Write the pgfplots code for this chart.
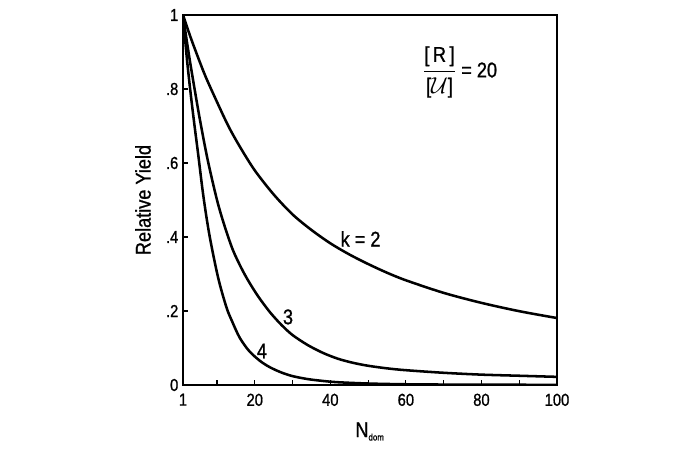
\documentclass[border=0pt]{standalone}
\usepackage{fontspec}
\setmainfont{Liberation Sans}[FakeStretch=0.85, FakeBold=1]
\usepackage{pgfplots}
\pgfplotsset{compat=1.18}
\begin{document}
\begin{tikzpicture}
\path[use as bounding box] (-137.25pt,-61.5pt) rectangle (387pt,288.75pt);
\begin{axis}[
  at={(0,0)}, anchor=origin,
  scale only axis, width=280.5pt, height=277.5pt,
  xmin=1, xmax=100, ymin=0, ymax=1,
  axis line style={line width=1.2pt},
  tick align=inside, xtick pos=left, ytick pos=left,
  major tick length=4pt, minor tick length=4pt,
  tick style={line width=0.8pt, black},
  xtick={1,20,40,60,80,100},
  minor xtick={10,30,50,70,90},
  ytick={0,0.2,0.4,0.6,0.8,1},
  yticklabels={0,.2,.4,.6,.8,1},
  /pgf/number format/assume math mode=true,
  ticklabel style={font=\fontsize{13}{15}\selectfont},
  xticklabel style={yshift=-3pt},
  xlabel={N\textsubscript{\fontsize{7}{8}\selectfont dom}},
  ylabel={Relative Yield},
  label style={font=\fontsize{16}{18}\selectfont},
  xlabel style={at={(axis description cs:0.5,0)}, anchor=base, yshift=-39pt},
  ylabel style={at={([xshift=-30pt]axis description cs:0,0.5)}, anchor=center},
  clip=true,
]
% k = 2
\addplot[black, line width=1.9pt, no marks, smooth, tension=0.5] coordinates {(1,1) (3,0.94) (5,0.885) (7,0.833) (10,0.765) (13,0.70) (16,0.645) (20,0.58) (25,0.515) (30,0.461) (35,0.419) (40,0.383) (45,0.353) (50,0.327) (55,0.3035) (60,0.283) (70,0.249) (80,0.222) (90,0.1995) (100,0.181)};
% k = 3
\addplot[black, line width=1.9pt, no marks, smooth, tension=0.5] coordinates {(1,1) (2,0.93) (3,0.865) (4.2,0.792) (5.5,0.716) (7.5,0.61) (10,0.5) (12,0.43) (14.2,0.365) (16.5,0.315) (18.5,0.278) (21,0.238) (24,0.197) (27,0.163) (30,0.135) (34,0.108) (38,0.087) (42,0.071) (46,0.06) (50,0.052) (55,0.045) (60,0.04) (70,0.033) (80,0.028) (90,0.025) (100,0.022)};
% k = 4
\addplot[black, line width=1.9pt, no marks, smooth, tension=0.5] coordinates {(1,1) (2,0.885) (3,0.79) (4,0.705) (5,0.625) (6.4,0.51) (8,0.405) (10.3,0.29) (12.5,0.21) (14,0.172) (16,0.128) (18.5,0.092) (21.4,0.065) (24,0.048) (27,0.034) (30,0.024) (34,0.016) (38,0.011) (42,0.0075) (50,0.004) (60,0.002) (75,0.001) (100,0.0005)};
\node[font=\fontsize{16}{18}\selectfont] at (axis cs:48,0.395) {k = 2};
\node[font=\fontsize{16}{18}\selectfont] at (axis cs:28.8,0.184) {3};
\node[font=\fontsize{16}{18}\selectfont] at (axis cs:21.9,0.092) {4};
\node[font=\fontsize{16}{18}\selectfont] at (axis cs:74.3,0.846) {$\displaystyle\frac{\mbox{[\,R\,]}}{\mbox{[$\mathcal{U}$]}}$ = 20};
\end{axis}
\end{tikzpicture}
\end{document}
